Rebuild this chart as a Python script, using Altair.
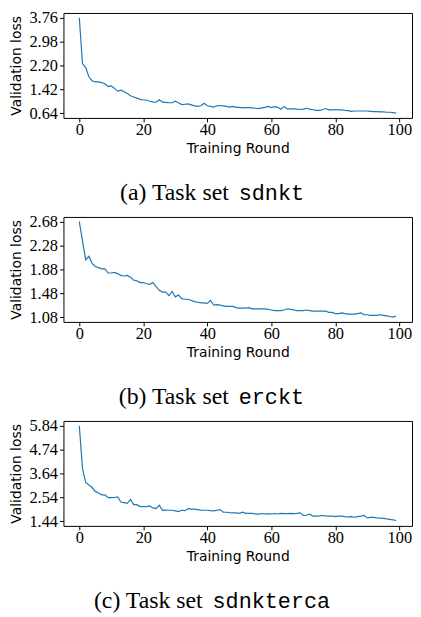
import altair as alt
import pandas as pd

rounds = list(range(100))

loss_a = [3.76, 2.26, 2.13, 1.83, 1.70, 1.66, 1.66, 1.64, 1.60, 1.51,
          1.53, 1.45, 1.36, 1.39, 1.34, 1.28, 1.21, 1.17, 1.13, 1.09,
          1.07, 1.07, 1.03, 1.01, 1.00, 1.08, 1.00, 0.99, 0.98, 0.98,
          1.03, 0.98, 0.92, 0.93, 0.94, 0.91, 0.88, 0.86, 0.88, 0.96,
          0.88, 0.86, 0.84, 0.88, 0.89, 0.88, 0.86, 0.84, 0.86, 0.83,
          0.83, 0.81, 0.82, 0.82, 0.81, 0.80, 0.79, 0.81, 0.83, 0.86,
          0.82, 0.85, 0.83, 0.77, 0.86, 0.78, 0.78, 0.78, 0.77, 0.76,
          0.77, 0.80, 0.77, 0.75, 0.73, 0.73, 0.75, 0.79, 0.75, 0.75,
          0.76, 0.75, 0.75, 0.73, 0.72, 0.70, 0.71, 0.71, 0.71, 0.71,
          0.71, 0.70, 0.69, 0.69, 0.68, 0.68, 0.67, 0.67, 0.66, 0.64]

loss_b = [2.68, 2.36, 2.04, 2.10, 1.98, 1.93, 1.91, 1.89, 1.89, 1.82,
          1.82, 1.83, 1.81, 1.78, 1.77, 1.78, 1.75, 1.70, 1.69, 1.66,
          1.66, 1.64, 1.63, 1.66, 1.59, 1.53, 1.50, 1.50, 1.44, 1.51,
          1.42, 1.45, 1.39, 1.38, 1.38, 1.36, 1.34, 1.33, 1.32, 1.32,
          1.31, 1.36, 1.28, 1.29, 1.28, 1.27, 1.26, 1.26, 1.26, 1.24,
          1.23, 1.23, 1.23, 1.24, 1.22, 1.22, 1.22, 1.22, 1.22, 1.21,
          1.20, 1.19, 1.19, 1.19, 1.20, 1.22, 1.21, 1.20, 1.19, 1.19,
          1.19, 1.20, 1.19, 1.18, 1.18, 1.18, 1.18, 1.18, 1.16, 1.16,
          1.14, 1.14, 1.15, 1.14, 1.13, 1.13, 1.13, 1.14, 1.15, 1.12,
          1.12, 1.11, 1.11, 1.11, 1.12, 1.11, 1.10, 1.09, 1.08, 1.10]

loss_c = [5.84, 3.86, 3.22, 3.11, 2.99, 2.81, 2.74, 2.65, 2.65, 2.52,
          2.52, 2.53, 2.56, 2.32, 2.29, 2.26, 2.44, 2.20, 2.20, 2.11,
          2.11, 2.11, 2.14, 2.05, 2.02, 2.17, 1.94, 1.95, 1.94, 1.94,
          1.91, 1.88, 1.94, 1.92, 2.02, 1.99, 1.99, 1.97, 1.95, 1.94,
          1.94, 1.92, 1.91, 1.94, 1.97, 1.85, 1.85, 1.83, 1.82, 1.82,
          1.80, 1.85, 1.80, 1.80, 1.80, 1.77, 1.76, 1.79, 1.77, 1.77,
          1.77, 1.79, 1.77, 1.80, 1.79, 1.79, 1.80, 1.79, 1.80, 1.82,
          1.70, 1.71, 1.76, 1.67, 1.67, 1.68, 1.70, 1.68, 1.67, 1.67,
          1.65, 1.67, 1.67, 1.65, 1.64, 1.65, 1.62, 1.65, 1.67, 1.70,
          1.59, 1.61, 1.61, 1.59, 1.58, 1.57, 1.54, 1.52, 1.50, 1.47]

ticks_a = [0.64, 1.42, 2.20, 2.98, 3.76]
ticks_b = [1.08, 1.48, 1.88, 2.28, 2.68]
ticks_c = [1.44, 2.54, 3.64, 4.74, 5.84]
x_ticks = [0, 20, 40, 60, 80, 100]

caption_prefix = ["(a) Task set", "(b) Task set", "(c) Task set"]
task_sets = ["sdnkt", "erckt", "sdnkterca"]

W, H = 352, 106
CAP_CX = 149      # caption centre, relative to plot left
CAP_Y = 189       # caption baseline, relative to plot top
SERIF_SIZE = 24
MONO_SIZE = 22


def panel(values, ticks, prefix, name):
    df = pd.DataFrame({"round": rounds, "loss": values})
    xmin, xmax = min(rounds), max(rounds)
    xpad = 0.05 * (xmax - xmin)
    lo, hi = ticks[0], ticks[-1]
    ypad = 0.05 * (hi - lo)
    line = alt.Chart(df).mark_line(color="#1f77b4", strokeWidth=1.2).encode(
        x=alt.X("round:Q",
                scale=alt.Scale(domain=[xmin - xpad, xmax + xpad], nice=False, zero=False),
                axis=alt.Axis(values=x_ticks, format="d", title="Training Round",
                              labelPadding=0, titlePadding=3)),
        y=alt.Y("loss:Q",
                scale=alt.Scale(domain=[lo - ypad, hi + ypad], nice=False, zero=False),
                axis=alt.Axis(values=ticks, format=".2f", title="Validation loss",
                              labelPadding=2, titlePadding=6)),
    )
    serif_w = 0.4665 * SERIF_SIZE * 10
    gap = 10
    mono_w = len(name) * 0.6 * MONO_SIZE
    total = serif_w + gap + mono_w
    left = CAP_CX - total / 2
    cap1 = alt.Chart(pd.DataFrame({"t": [prefix]})).mark_text(
        font="Liberation Serif", fontSize=SERIF_SIZE, align="right",
        baseline="alphabetic", color="black"
    ).encode(text="t:N", x=alt.value(left + serif_w), y=alt.value(CAP_Y))
    cap2 = alt.Chart(pd.DataFrame({"t": [name]})).mark_text(
        font="Liberation Mono", fontSize=MONO_SIZE, align="left",
        baseline="alphabetic", color="black"
    ).encode(text="t:N", x=alt.value(left + serif_w + gap), y=alt.value(CAP_Y))
    return alt.layer(line, cap1, cap2).properties(width=W, height=H)


chart = alt.vconcat(
    panel(loss_a, ticks_a, caption_prefix[0], task_sets[0]),
    panel(loss_b, ticks_b, caption_prefix[1], task_sets[1]),
    panel(loss_c, ticks_c, caption_prefix[2], task_sets[2]),
    spacing=7,
).properties(
    padding={"top": -2, "left": 0, "right": 0, "bottom": 0}
).configure_view(
    stroke="black", strokeWidth=1
).configure_axis(
    grid=False, domain=False, tickColor="black", tickSize=4, tickWidth=1,
    labelFont="Liberation Serif", labelFontSize=16.5, labelColor="black",
    labelFlush=False, labelOverlap=False,
    titleFont="DejaVu Sans", titleFontSize=14, titleFontWeight="normal",
    titleColor="black"
)

chart.save("out.html", embed_options={"renderer": "svg", "actions": False})
